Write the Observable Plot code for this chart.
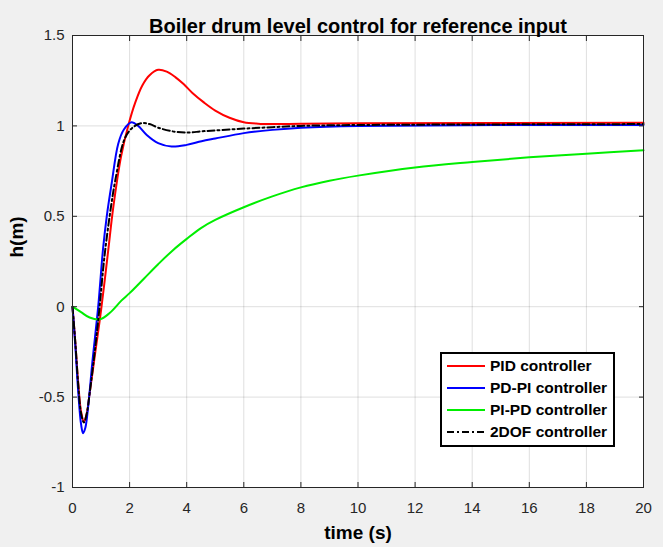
<!DOCTYPE html>
<html><head><meta charset="utf-8">
<script src="https://cdn.jsdelivr.net/npm/d3@7"></script>
<script src="https://cdn.jsdelivr.net/npm/@observablehq/plot@0.6"></script>
<style>
html,body{margin:0;padding:0;background:#f0f0f0;}
#wrap{position:relative;width:663px;height:547px;font-family:"Liberation Sans",Arial,sans-serif;}
#legend{position:absolute;left:440px;top:352px;width:171px;height:91px;background:#fff;border:2px solid #000;box-sizing:content-box;}
.row{position:absolute;left:5px;height:20px;display:flex;align-items:center;font-weight:bold;font-size:15.5px;color:#000;white-space:nowrap;}
.row svg{margin-right:5px;}
</style></head><body>
<div id="wrap"></div>
<script>
const title = "Boiler drum level control for reference input";
const xLabel = "time (s)";
const yLabel = "h(m)";
const xTicks = [0,2,4,6,8,10,12,14,16,18,20];
const yTicks = [-1,-0.5,0,0.5,1,1.5];
const seriesNames = ["PID controller","PD-PI controller","PI-PD controller","2DOF controller"];
const seriesColors = ["#ff0000","#0000ff","#00ee00","#000000"];

const pidT = [0,0.1,0.2,0.3,0.4,0.5,0.6,0.8,1.0,1.25,1.42,1.7,1.95,2.2,2.45,2.7,3.0,3.3,3.6,3.9,4.2,4.6,5.0,5.5,6,6.5,7,8,10,20];
const pidY = [0,-0.2,-0.42,-0.58,-0.635,-0.59,-0.48,-0.25,-0.02,0.31,0.54,0.83,1.0,1.13,1.225,1.28,1.31,1.30,1.27,1.23,1.182,1.13,1.085,1.045,1.02,1.012,1.01,1.012,1.015,1.017];

const pdpiT = [0,0.1,0.2,0.3,0.37,0.45,0.55,0.7,0.9,1.07,1.2,1.37,1.6,1.8,2.07,2.3,2.6,3.0,3.47,4.0,4.52,5,6,7,8,10,20];
const pdpiY = [0,-0.22,-0.47,-0.65,-0.70,-0.67,-0.55,-0.3,0.0,0.32,0.5,0.68,0.9,0.98,1.02,1.0,0.95,0.905,0.886,0.895,0.915,0.93,0.96,0.978,0.99,1.0,1.005];

const pipdT = [0,0.3,0.6,0.96,1.3,1.72,2.0,2.5,3.0,3.5,4.0,4.5,5,6,7,8,9,10,12,14,16,18,20];
const pipdY = [0,-0.03,-0.06,-0.07,-0.035,0.035,0.075,0.155,0.235,0.31,0.375,0.435,0.48,0.55,0.61,0.66,0.697,0.725,0.77,0.80,0.826,0.846,0.865];

const dofT = [0,0.1,0.2,0.3,0.4,0.5,0.6,0.8,0.95,1.1,1.3,1.5,1.83,2.1,2.42,2.7,3.0,3.5,4.05,4.52,5,6,7,8,10,20];
const dofY = [0,-0.2,-0.43,-0.59,-0.64,-0.59,-0.48,-0.22,0.0,0.25,0.5,0.7,0.93,0.99,1.015,1.01,0.99,0.97,0.963,0.97,0.975,0.985,0.993,1.0,1.005,1.01];

const series = [[pidT,pidY],[pdpiT,pdpiY],[pipdT,pipdY],[dofT,dofY]];
const rows = series.flatMap(([T,Y],i)=>T.map((t,j)=>({t, h:Y[j], s:seriesNames[i]})));

const axisCol = "#262626";
const lineMarks = seriesNames.map((name,i)=>Plot.line(rows.filter(r=>r.s===name),{
  x:"t", y:"h", stroke:seriesColors[i], strokeWidth:2, curve:"catmull-rom",
  strokeDasharray: i===3 ? "7,3,2,3" : null
}));
const fmt = d => String(d);

const chart = Plot.plot({
  width:663, height:547,
  marginLeft:72, marginRight:20, marginTop:35, marginBottom:60,
  style:{background:"#f0f0f0", fontFamily:"'Liberation Sans', Arial, sans-serif", fontSize:"15px", color:axisCol},
  x:{domain:[0,20]},
  y:{domain:[-1,1.5]},
  marks:[
    Plot.frame({fill:"white", stroke:null}),
    Plot.gridX(xTicks,{stroke:"#000", strokeOpacity:0.13}),
    Plot.gridY(yTicks,{stroke:"#000", strokeOpacity:0.13}),
    ...lineMarks,
    Plot.axisX(xTicks,{anchor:"bottom", tickSize:-5, tickPadding:20, tickFormat:fmt, label:null, fontSize:15, color:axisCol, stroke:axisCol}),
    Plot.axisX(xTicks,{anchor:"top", tickSize:-5, tickFormat:()=>"", label:null, stroke:axisCol}),
    Plot.axisY(yTicks,{anchor:"left", tickSize:-5, tickPadding:13, tickFormat:fmt, label:null, fontSize:15, color:axisCol, stroke:axisCol}),
    Plot.axisY(yTicks,{anchor:"right", tickSize:-5, tickFormat:()=>"", label:null, stroke:axisCol}),
    Plot.frame({stroke:axisCol, strokeWidth:1}),
    Plot.text([title],{frameAnchor:"top", dy:-17, fontWeight:"bold", fontSize:20, fill:"#000"}),
    Plot.text([xLabel],{frameAnchor:"bottom", dy:51, fontWeight:"bold", fontSize:19, fill:"#000"}),
    Plot.text([yLabel],{frameAnchor:"left", dx:-56, dy:-4, rotate:-90, fontWeight:"bold", fontSize:19, fill:"#000"})
  ]
});
const wrap = document.getElementById("wrap");
wrap.appendChild(chart);

const leg = document.createElement("div");
leg.id = "legend";
seriesNames.forEach((name,i)=>{
  const r = document.createElement("div");
  r.className = "row";
  r.style.top = (2 + i*22) + "px";
  const dash = i===3 ? 'stroke-dasharray="7,3,2,3"' : '';
  r.innerHTML = `<svg width="38" height="6"><line x1="0" y1="3" x2="38" y2="3" stroke="${seriesColors[i]}" stroke-width="2" ${dash}/></svg><span>${name}</span>`;
  leg.appendChild(r);
});
wrap.appendChild(leg);
</script>
</body></html>
